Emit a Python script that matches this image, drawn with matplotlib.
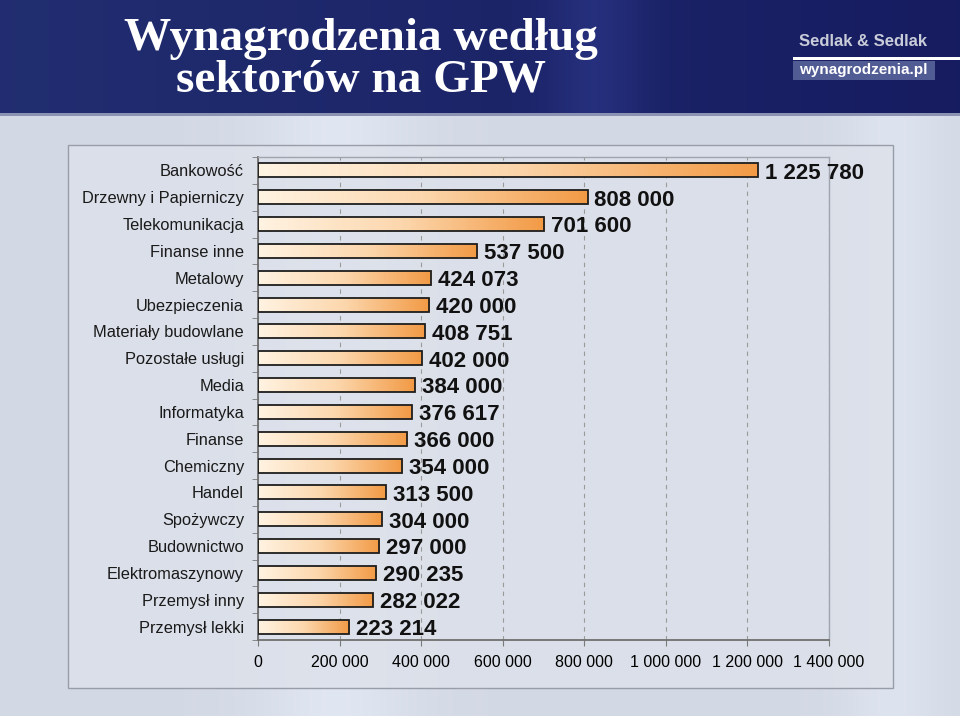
import numpy as np
import matplotlib.pyplot as plt
from matplotlib.colors import LinearSegmentedColormap
from matplotlib.patches import Rectangle

# data
sectors = ['Bankowość', 'Drzewny i Papierniczy', 'Telekomunikacja', 'Finanse inne',
           'Metalowy', 'Ubezpieczenia', 'Materiały budowlane', 'Pozostałe usługi',
           'Media', 'Informatyka', 'Finanse', 'Chemiczny', 'Handel', 'Spożywczy',
           'Budownictwo', 'Elektromaszynowy', 'Przemysł inny', 'Przemysł lekki']
salaries = [1225780, 808000, 701600, 537500, 424073, 420000, 408751, 402000,
            384000, 376617, 366000, 354000, 313500, 304000, 297000, 290235,
            282022, 223214]
x_ticks = [0, 200000, 400000, 600000, 800000, 1000000, 1200000, 1400000]

title_lines = ['Wynagrodzenia według', 'sektorów na GPW']


def fmt(v):
    return f'{v:,}'.replace(',', ' ')


W, H = 960, 716
fig = plt.figure(figsize=(W / 100, H / 100), dpi=100)

# background: navy header + light grey-blue slide body
bg = fig.add_axes([0, 0, 1, 1], zorder=-10)
bg.axis('off')
img = np.zeros((H, W, 3))
xx = np.linspace(0, 1, W)
body = np.array([0.83, 0.85, 0.90])
img[:, :, :] = body
band = np.exp(-((xx - 0.35) / 0.08) ** 2) * 0.05 + np.exp(-((xx - 0.93) / 0.05) ** 2) * 0.04
img[:, :, :] += band[None, :, None]
head_h = 113
navy_l = np.array([0.13, 0.18, 0.44])
navy_r = np.array([0.09, 0.11, 0.38])
hx = navy_l[None, :] * (1 - xx[:, None]) + navy_r[None, :] * xx[:, None]
swirl = np.exp(-((xx - 0.62) / 0.05) ** 2) * 0.08
img[:head_h, :, :] = hx[None, :, :] + swirl[None, :, None] * np.array([0.5, 0.6, 1.0])
img[head_h:head_h + 3, :, :] = [0.55, 0.58, 0.70]
bg.imshow(np.clip(img, 0, 1), extent=[0, 1, 0, 1], aspect='auto')
bg.set_xlim(0, 1)
bg.set_ylim(0, 1)

# chart panel
panel = Rectangle((68 / W, 1 - 688 / H), 825 / W, 543 / H, transform=fig.transFigure,
                  facecolor='#dde1ea', edgecolor='#8d929e', lw=1.0, alpha=0.85, zorder=-5)
fig.patches.append(panel)

# titles
fig.text(361 / W, 1 - 39 / H, title_lines[0], ha='center', va='center', fontsize=34,
         family='Liberation Serif', weight='bold', color='white')
fig.text(361 / W, 1 - 81 / H, title_lines[1], ha='center', va='center', fontsize=34,
         family='Liberation Serif', weight='bold', color='white')

# logo
fig.text(863 / W, 1 - 41 / H, 'Sedlak & Sedlak', ha='center', va='center', fontsize=12,
         weight='bold', color='#c9cdd9', family='Liberation Sans')
fig.patches.append(Rectangle((793 / W, 1 - 60 / H), 167 / W, 3 / H, transform=fig.transFigure,
                             facecolor='white', edgecolor='none'))
fig.patches.append(Rectangle((793 / W, 1 - 80 / H), 142 / W, 19 / H, transform=fig.transFigure,
                             facecolor='#525c94', edgecolor='none'))
fig.text(863 / W, 1 - 70 / H, 'wynagrodzenia.pl', ha='center', va='center', fontsize=11,
         weight='bold', color='white', family='Liberation Sans')

# the chart itself
ax = fig.add_axes([258 / W, 1 - 640 / H, 571 / W, 483 / H])
ax.set_facecolor('none')

cmap = LinearSegmentedColormap.from_list('bar', ['#fff3e2', '#fcd7ad', '#f29a45'])
grad = np.linspace(0, 1, 256)[None, :]
y = np.arange(len(sectors))
bar_h = 0.52
for yi, v in zip(y, salaries):
    ax.imshow(grad, cmap=cmap, extent=[0, v, yi + bar_h / 2, yi - bar_h / 2],
              aspect='auto', zorder=2, interpolation='bilinear')
ax.barh(y, salaries, height=bar_h, facecolor='none', edgecolor='#1e1e1e', lw=1.3, zorder=3)

for yi, v in zip(y, salaries):
    ax.annotate(fmt(v), (v, yi), xytext=(5, -2), textcoords='offset points',
                ha='left', va='center', fontsize=16, weight='bold',
                color='#111111', family='Liberation Sans', zorder=4, annotation_clip=False)

ax.set_xlim(0, 1400000)
ax.set_ylim(len(sectors) - 0.5, -0.5)
ax.set_xticks(x_ticks)
ax.set_xticklabels([fmt(t) for t in x_ticks], fontsize=11.5, family='Liberation Sans')
ax.set_yticks(y)
ax.set_yticklabels(sectors, fontsize=11.8, family='Liberation Sans', color='#1a1a1a')
ax.set_yticks(np.arange(len(sectors) + 1) - 0.5, minor=True)
ax.tick_params(axis='y', which='major', length=0, pad=10)
ax.tick_params(axis='y', which='minor', length=4, color='#7a7a7a')
ax.tick_params(axis='x', length=4, color='#7a7a7a', pad=7)
ax.xaxis.grid(True, linestyle=(0, (4, 4)), color='#9a9a9a', lw=0.8, zorder=1)
ax.set_axisbelow(True)
for s in ['left', 'bottom']:
    ax.spines[s].set_color('#707070')
    ax.spines[s].set_linewidth(1.3)
for s in ['top', 'right']:
    ax.spines[s].set_color('#a0a4ac')
    ax.spines[s].set_linewidth(1.0)

fig.savefig('out.png', dpi=100)
